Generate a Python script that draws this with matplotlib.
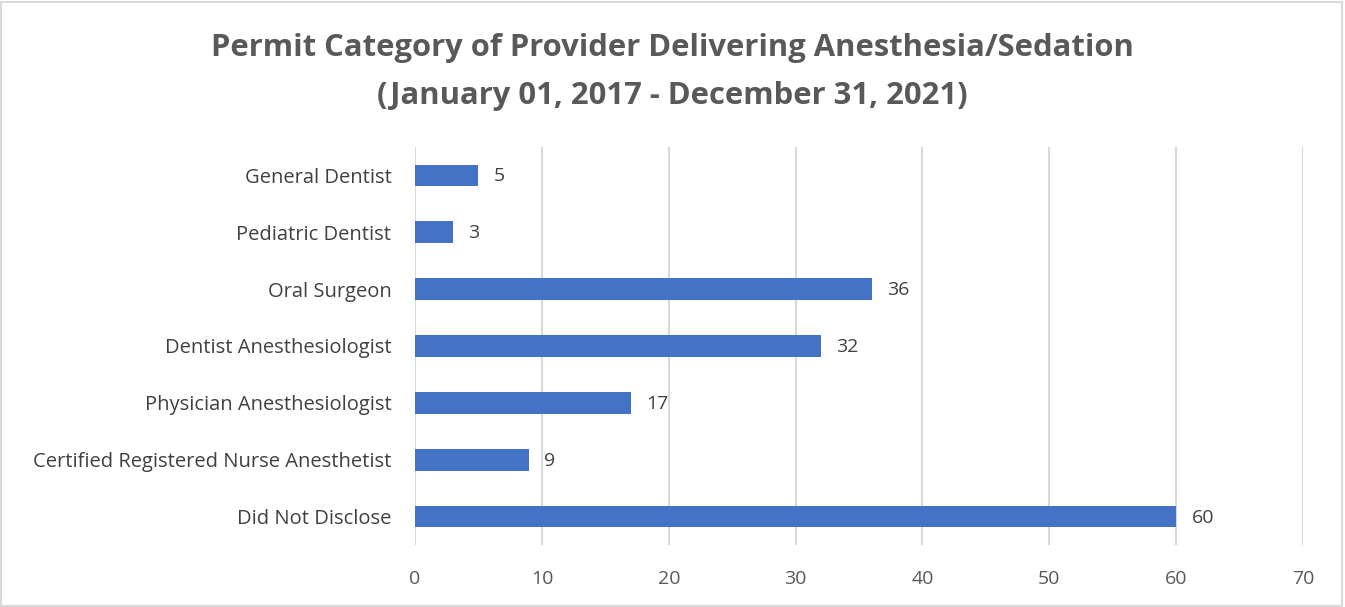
import matplotlib.pyplot as plt

categories = ['General Dentist', 'Pediatric Dentist', 'Oral Surgeon', 'Dentist Anesthesiologist',
              'Physician Anesthesiologist', 'Certified Registered Nurse Anesthetist', 'Did Not Disclose']
counts = [5, 3, 36, 32, 17, 9, 60]
xticks = [0, 10, 20, 30, 40, 50, 60, 70]

plt.rcParams['font.family'] = ['Open Sans', 'DejaVu Sans']

fig = plt.figure(figsize=(13.45, 6.07), dpi=100)
ax = fig.add_axes([0.3086, 0.102, 0.6602, 0.656])

ypos = list(range(len(categories)))
ax.barh(ypos, counts, height=0.38, color='#4472C4', zorder=2)
for y, v in zip(ypos, counts):
    ax.text(v + 1.2, y + 0.02, str(v), va='center', ha='left', fontsize=14, color='#404040')

ax.set_xlim(0, 70)
ax.set_ylim(len(categories) - 0.5, -0.5)
ax.set_yticks(ypos)
ax.set_yticklabels(categories, fontsize=14.5, color='#404040')
ax.set_xticks(xticks)
ax.set_xticklabels([str(t) for t in xticks], fontsize=14, color='#595959')
ax.tick_params(axis='y', length=0, pad=17)
ax.tick_params(axis='x', length=0, pad=18)
ax.grid(axis='x', color='#d9d9d9', linewidth=1.5, zorder=3)
for s in ax.spines.values():
    s.set_visible(False)

fig.text(0.5, 0.921, 'Permit Category of Provider Delivering Anesthesia/Sedation',
         ha='center', va='center', fontsize=22.3, fontweight='bold', color='#595959')
fig.text(0.5, 0.842, '(January 01, 2017 - December 31, 2021)',
         ha='center', va='center', fontsize=22.3, fontweight='bold', color='#595959')

border = plt.Rectangle((0.001, 0.002), 0.997, 0.995, transform=fig.transFigure,
                       fill=False, edgecolor='#d9d9d9', linewidth=1.5)
fig.patches.append(border)

fig.savefig('out.png', dpi=100)
